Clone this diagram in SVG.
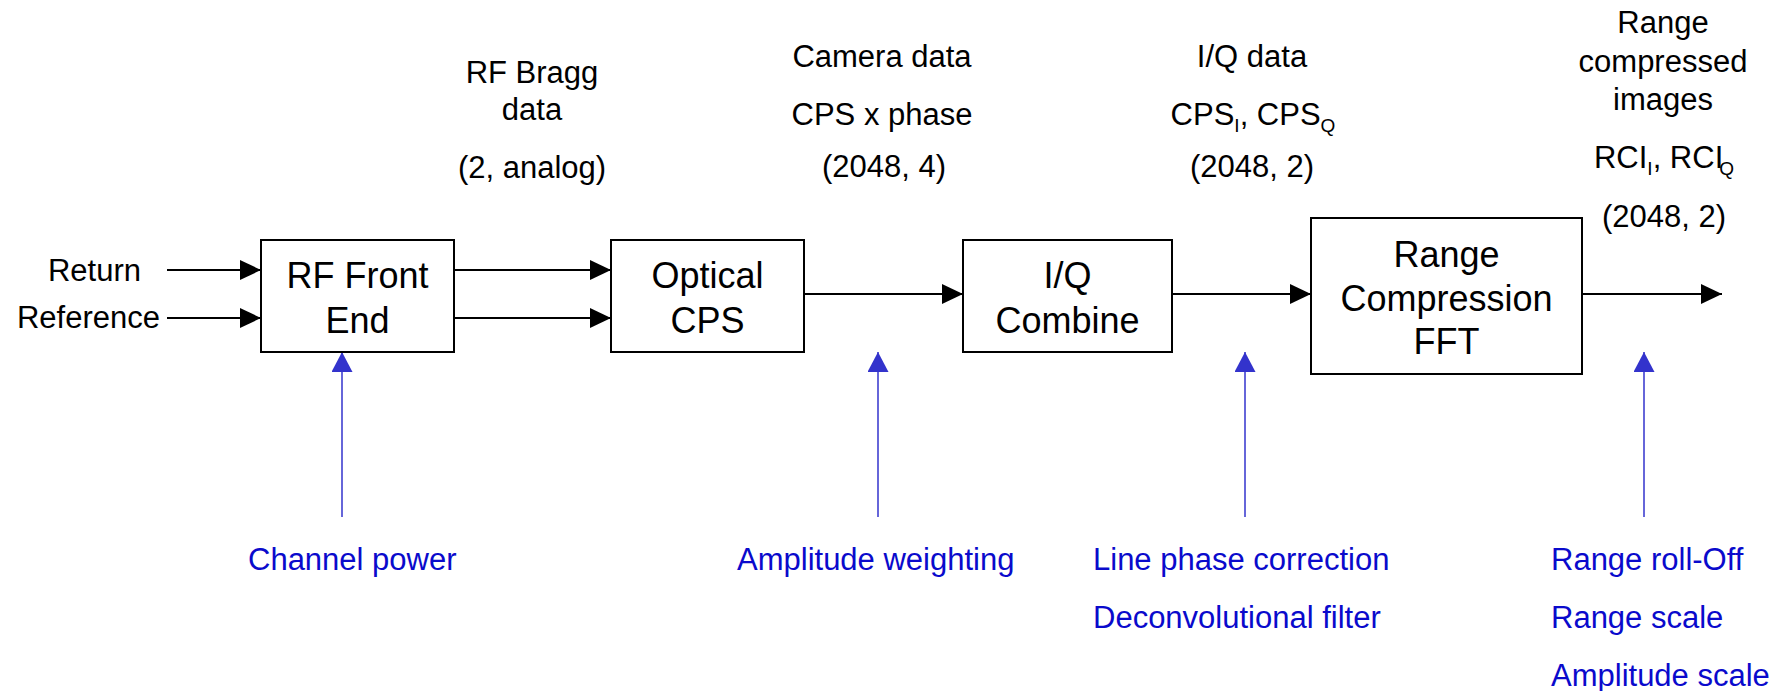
<svg xmlns="http://www.w3.org/2000/svg" width="1785" height="691" viewBox="0 0 1785 691">
<defs>
<style>
text{font-family:"Liberation Sans",Arial,sans-serif;}
.lbl{font-size:31px;fill:#000;text-anchor:middle;}
.box{fill:#fff;stroke:#000;stroke-width:2;}
.bt{font-size:36px;fill:#000;text-anchor:middle;}
.blue{font-size:31px;fill:#0a0acc;}
.conn{stroke:#000;stroke-width:2;fill:none;}
.ctl{stroke:#3333cc;stroke-width:1.5;fill:none;}
.sub{font-size:19px;}
</style>
<marker id="ah" markerUnits="userSpaceOnUse" markerWidth="21" markerHeight="21" refX="21" refY="10" orient="auto"><path d="M0,0 L21,10 L0,20 Z" fill="#000"/></marker>
<marker id="bh" markerUnits="userSpaceOnUse" markerWidth="21" markerHeight="22" refX="20" refY="10.5" orient="auto"><path d="M0,0 L20,10.5 L0,21 Z" fill="#3333cc"/></marker>
</defs>
<rect width="1785" height="691" fill="#fff"/>

<g id="connectors">
<line class="conn" x1="167" y1="270" x2="261" y2="270" marker-end="url(#ah)"/>
<line class="conn" x1="167" y1="318" x2="261" y2="318" marker-end="url(#ah)"/>
<line class="conn" x1="454" y1="270" x2="611" y2="270" marker-end="url(#ah)"/>
<line class="conn" x1="454" y1="318" x2="611" y2="318" marker-end="url(#ah)"/>
<line class="conn" x1="804" y1="294" x2="963" y2="294" marker-end="url(#ah)"/>
<line class="conn" x1="1172" y1="294" x2="1311" y2="294" marker-end="url(#ah)"/>
<line class="conn" x1="1582" y1="294" x2="1722" y2="294" marker-end="url(#ah)"/>
<line class="ctl" x1="342" y1="517" x2="342" y2="352" marker-end="url(#bh)"/>
<line class="ctl" x1="878" y1="517" x2="878" y2="352" marker-end="url(#bh)"/>
<line class="ctl" x1="1245" y1="517" x2="1245" y2="352" marker-end="url(#bh)"/>
<line class="ctl" x1="1644" y1="517" x2="1644" y2="352" marker-end="url(#bh)"/>
</g>

<g id="inputs">
<text class="lbl" x="94.5" y="281">Return</text>
<text class="lbl" x="88.5" y="328">Reference</text>
</g>

<g id="rf-front-end">
<rect class="box" x="261" y="240" width="193" height="112"/>
<text class="bt" x="357.5" y="288">RF Front</text>
<text class="bt" x="357.5" y="333">End</text>
</g>

<g id="optical-cps">
<rect class="box" x="611" y="240" width="193" height="112"/>
<text class="bt" x="707.5" y="288">Optical</text>
<text class="bt" x="707.5" y="333">CPS</text>
</g>

<g id="iq-combine">
<rect class="box" x="963" y="240" width="209" height="112"/>
<text class="bt" x="1067.5" y="288">I/Q</text>
<text class="bt" x="1067.5" y="333">Combine</text>
</g>

<g id="range-compression">
<rect class="box" x="1311" y="218" width="271" height="156"/>
<text class="bt" x="1446.5" y="267">Range</text>
<text class="bt" x="1446.5" y="311">Compression</text>
<text class="bt" x="1446.5" y="354">FFT</text>
</g>

<g id="label-rf-bragg">
<text class="lbl" x="532" y="83">RF Bragg</text>
<text class="lbl" x="532" y="120">data</text>
<text class="lbl" x="532" y="178">(2, analog)</text>
</g>

<g id="label-camera">
<text class="lbl" x="882" y="67">Camera data</text>
<text class="lbl" x="882" y="125">CPS x phase</text>
<text class="lbl" x="884" y="177">(2048, 4)</text>
</g>

<g id="label-iq">
<text class="lbl" x="1252" y="67">I/Q data</text>
<text class="lbl" x="1253" y="125">CPS<tspan class="sub" dy="7">I</tspan><tspan dy="-7">, CPS</tspan><tspan class="sub" dy="7">Q</tspan></text>
<text class="lbl" x="1252" y="177">(2048, 2)</text>
</g>

<g id="label-rci">
<text class="lbl" x="1663" y="33">Range</text>
<text class="lbl" x="1663" y="72">compressed</text>
<text class="lbl" x="1663" y="110">images</text>
<text class="lbl" x="1664" y="168">RCI<tspan class="sub" dy="7">I</tspan><tspan dy="-7">, RCI</tspan><tspan class="sub" dy="7" dx="-4">Q</tspan></text>
<text class="lbl" x="1664" y="227">(2048, 2)</text>
</g>

<g id="ctl-channel-power">
<text class="blue" x="248" y="570">Channel power</text>
</g>
<g id="ctl-amplitude-weighting">
<text class="blue" x="737" y="570">Amplitude weighting</text>
</g>
<g id="ctl-line-phase">
<text class="blue" x="1093" y="570">Line phase correction</text>
<text class="blue" x="1093" y="628">Deconvolutional filter</text>
</g>
<g id="ctl-range">
<text class="blue" x="1551" y="570">Range roll-Off</text>
<text class="blue" x="1551" y="628">Range scale</text>
<text class="blue" x="1551" y="686">Amplitude scale</text>
</g>
</svg>
